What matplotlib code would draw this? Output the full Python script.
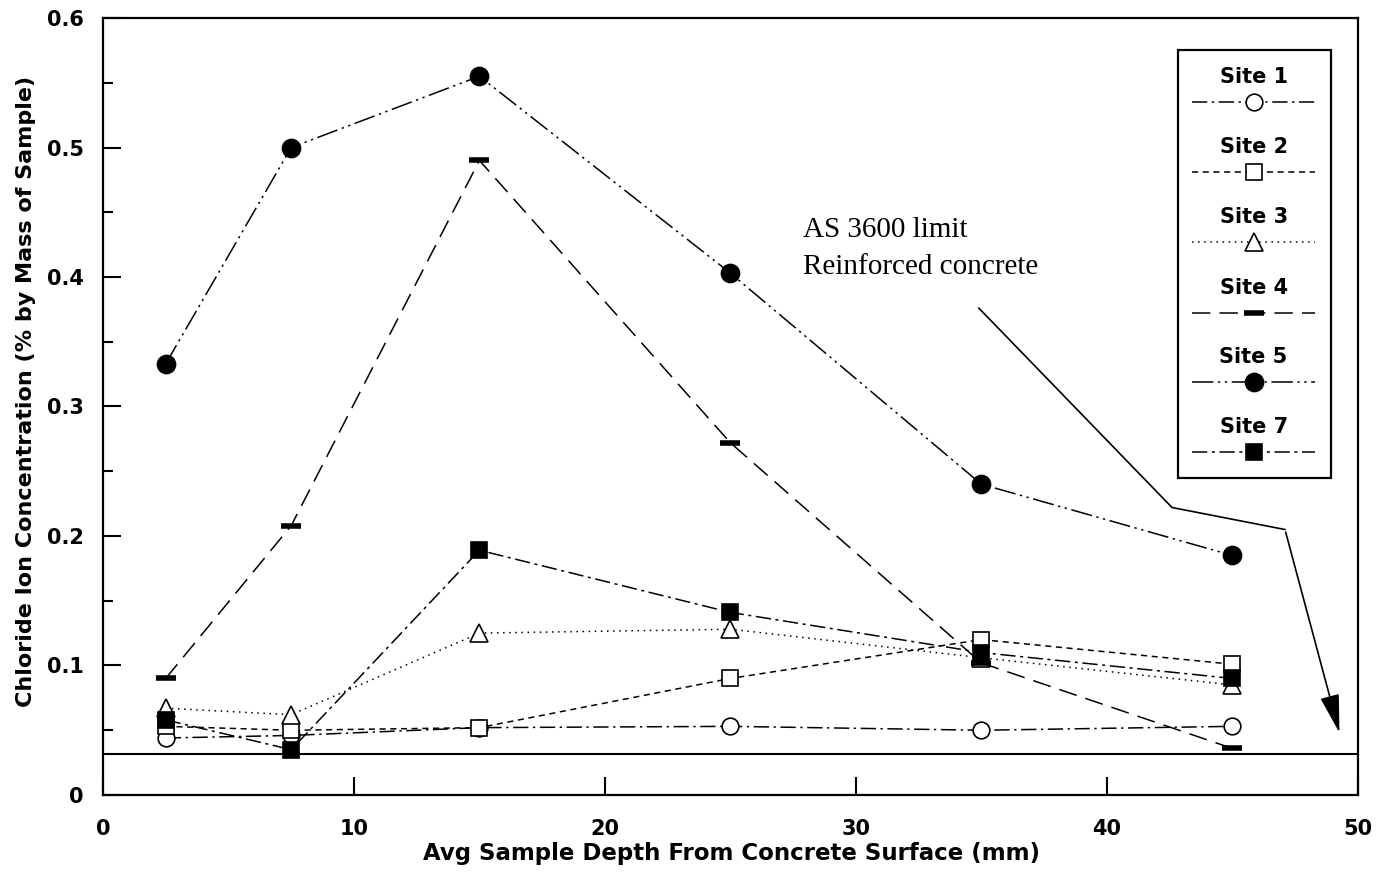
import matplotlib
matplotlib.use("Agg")
import matplotlib.pyplot as plt
from matplotlib.lines import Line2D
from matplotlib.patches import Rectangle

plt.rcParams['font.family'] = ['DejaVu Sans']

depth = [2.5, 7.5, 15, 25, 35, 45]
site1 = [0.044, 0.046, 0.052, 0.053, 0.050, 0.053]
site2 = [0.053, 0.050, 0.052, 0.090, 0.120, 0.101]
site3 = [0.067, 0.062, 0.125, 0.128, 0.106, 0.085]
site4 = [0.090, 0.208, 0.490, 0.272, 0.102, 0.036]
site5 = [0.333, 0.500, 0.555, 0.403, 0.240, 0.185]
site7 = [0.058, 0.035, 0.189, 0.141, 0.110, 0.090]
labels = ["Site 1", "Site 2", "Site 3", "Site 4", "Site 5", "Site 7"]
limit_value = 0.032
x_ticks = [0, 10, 20, 30, 40, 50]
y_ticks = [0, 0.1, 0.2, 0.3, 0.4, 0.5, 0.6]
y_ticklabels = ["0", "0.1", "0.2", "0.3", "0.4", "0.5", "0.6"]

fig = plt.figure(figsize=(13.88, 8.74), dpi=100)
ax = fig.add_axes([0.0742, 0.0904, 0.904, 0.889])

styles = [
    dict(ls=(0, (10, 3, 1.5, 3)), marker='o', mfc='white', ms=12),
    dict(ls=(0, (4, 3)), marker='s', mfc='white', ms=11),
    dict(ls=(0, (1, 3)), marker='^', mfc='white', ms=13),
    dict(ls=(0, (12, 6)), marker='_', mfc='black', ms=14, mew=4),
    dict(ls=(0, (14, 3, 1.5, 3, 1.5, 3)), marker='o', mfc='black', ms=13),
    dict(ls=(0, (10, 3, 2, 3)), marker='s', mfc='black', ms=12),
]
series = [site1, site2, site3, site4, site5, site7]
for vals, st in zip(series, styles):
    st = dict(st)
    mew = st.pop('mew', 1.2)
    ax.plot(depth, vals, color='black', lw=1.1, mec='black', mew=mew, zorder=3, **st)

ax.axhline(limit_value, color='black', lw=1.5, zorder=2)

# annotation
ax.text(27.9, 0.431, "AS 3600 limit", fontsize=21, family='Liberation Serif', va='baseline')
ax.text(27.9, 0.402, "Reinforced concrete", fontsize=21, family='Liberation Serif', va='baseline')
ax.plot([34.9, 42.6, 47.1], [0.376, 0.222, 0.205], color='black', lw=1.2)
ax.annotate("", xy=(49.3, 0.046), xytext=(47.1, 0.205),
            arrowprops=dict(arrowstyle='-|>,head_length=1.2,head_width=0.3', color='black',
                            lw=1.2, mutation_scale=20))

ax.set_xlim(0, 50)
ax.set_ylim(0, 0.6)
ax.set_xticks(x_ticks)
ax.set_xticklabels([str(v) for v in x_ticks])
ax.set_yticks(y_ticks)
ax.set_yticklabels(y_ticklabels)
ax.set_yticks([0.05, 0.15, 0.25, 0.35, 0.45, 0.55], minor=True)
ax.tick_params(axis='both', which='major', direction='in', length=13, width=1.5,
               labelsize=15)
ax.tick_params(axis='x', which='major', pad=17)
ax.tick_params(axis='y', which='major', pad=14)
ax.tick_params(axis='y', which='minor', direction='in', length=7, width=1.5)
for lab in ax.get_xticklabels() + ax.get_yticklabels():
    lab.set_fontweight('bold')
for sp in ax.spines.values():
    sp.set_linewidth(1.6)

ax.set_xlabel("Avg Sample Depth From Concrete Surface (mm)", fontsize=16.5, fontweight='bold')
ax.set_ylabel("Chloride Ion Concentration (% by Mass of Sample)", fontsize=16, fontweight='bold')
ax.xaxis.set_label_coords(0.501, -0.060)
ax.yaxis.set_label_coords(-0.053, 0.52)

# custom legend: label above line sample
ax.add_patch(Rectangle((0.857, 0.408), 0.122, 0.551, transform=ax.transAxes,
                       fill=True, facecolor='white', edgecolor='black', lw=1.6, zorder=5))
lab_y = [77, 147, 217, 288, 357, 427]
for lbl, st, py in zip(labels, styles, lab_y):
    ty = (795 - py) / 777
    ly = (795 - (py + 25)) / 777
    ax.text(0.917, ty, lbl, transform=ax.transAxes, ha='center', va='center',
            fontsize=15, fontweight='bold', zorder=6)
    st = dict(st)
    mew = st.pop('mew', 1.2)
    ax.add_line(Line2D([0.868, 0.966], [ly, ly], transform=ax.transAxes, color='black',
                       lw=1.1, ls=st['ls'], zorder=6))
    ax.add_line(Line2D([0.917], [ly], transform=ax.transAxes, color='black', ls='none',
                       marker=st['marker'], mfc=st['mfc'], ms=st['ms'], mec='black',
                       mew=mew, zorder=7))

fig.savefig("out.png", dpi=100)
